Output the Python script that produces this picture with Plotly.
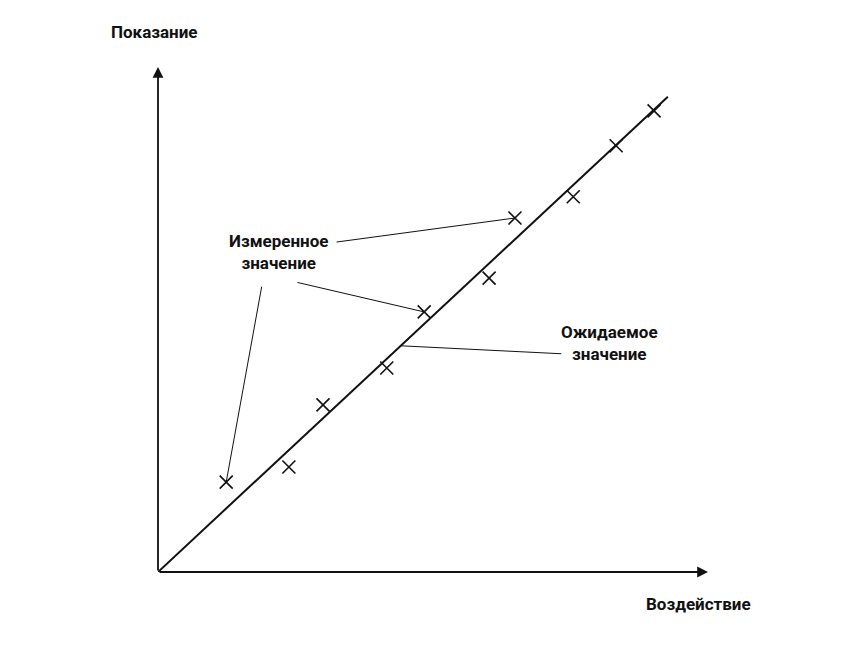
import plotly.graph_objects as go

# measured readings (x = stimulus, y = reading), arbitrary units
meas_x = [12.4, 23.8, 30.0, 41.6, 48.4, 60.2, 64.9, 75.5, 83.3, 90.2]
meas_y = [17.8, 20.8, 33.1, 40.4, 51.5, 58.2, 70.1, 74.3, 84.4, 91.3]

# expected (ideal) response line
exp_x = [0.0, 92.7]
exp_y = [0.0, 94.1]

# axis extents
x_max = 100
y_max = 100

# labels
y_title = "Показание"
x_title = "Воздействие"
meas_label = "Измеренное<br>значение"
exp_label = "Ожидаемое<br>значение"

FONT = "Roboto"
INK = "#111111"

fig = go.Figure()
fig.add_trace(go.Scatter(x=exp_x, y=exp_y, mode="lines",
                         line=dict(color=INK, width=2), hoverinfo="skip"))
fig.add_trace(go.Scatter(x=meas_x, y=meas_y, mode="markers",
                         marker=dict(symbol="x-thin", size=13,
                                     line=dict(color=INK, width=1.6)),
                         hoverinfo="skip"))

ann = []
# axis arrows
ann.append(dict(x=x_max, y=0, ax=0, ay=0, xref="x", yref="y", axref="x", ayref="y",
                text="", showarrow=True, arrowhead=2, arrowsize=1.2, arrowwidth=1.8,
                arrowcolor=INK, standoff=0, startstandoff=0))
ann.append(dict(x=0, y=y_max, ax=0, ay=0, xref="x", yref="y", axref="x", ayref="y",
                text="", showarrow=True, arrowhead=2, arrowsize=1.2, arrowwidth=1.8,
                arrowcolor=INK, standoff=0, startstandoff=0))

# leader lines from labels to points / line
def leader(tx, ty, sx, sy):
    return dict(x=tx, y=ty, ax=sx, ay=sy, xref="x", yref="y", axref="x", ayref="y",
                text="", showarrow=True, arrowhead=0, arrowwidth=1, arrowcolor=INK,
                standoff=0, startstandoff=0)

ann.append(leader(meas_x[6], meas_y[6], 32.2, 65.3))
ann.append(leader(meas_x[4], meas_y[4], 25.1, 57.4))
ann.append(leader(meas_x[0], meas_y[0], 18.9, 56.8))
ann.append(leader(44.0, 44.8, 73.6, 43.2))

# texts
txt = dict(showarrow=False, xanchor="center", yanchor="middle",
           font=dict(family=FONT, size=17, color=INK))
ann.append(dict(x=-0.006, y=1.069, xref="paper", yref="paper",
                text="<b>" + y_title + "</b>", **txt))
ann.append(dict(x=0.982, y=-0.063, xref="paper", yref="paper",
                text="<b>" + x_title + "</b>", **txt))
ann.append(dict(x=22.0, y=63.4, xref="x", yref="y",
                text="<b>" + meas_label + "</b>", **txt))
ann.append(dict(x=82.0, y=45.4, xref="x", yref="y",
                text="<b>" + exp_label + "</b>", **txt))

fig.update_layout(
    width=850, height=647,
    margin=dict(l=150, r=150, t=59, b=83),
    paper_bgcolor="white", plot_bgcolor="white",
    showlegend=False,
    annotations=ann,
    xaxis=dict(range=[0, x_max], visible=False, fixedrange=True),
    yaxis=dict(range=[0, y_max], visible=False, fixedrange=True),
)
fig.update_traces(cliponaxis=False)

fig.write_html("out.html")
